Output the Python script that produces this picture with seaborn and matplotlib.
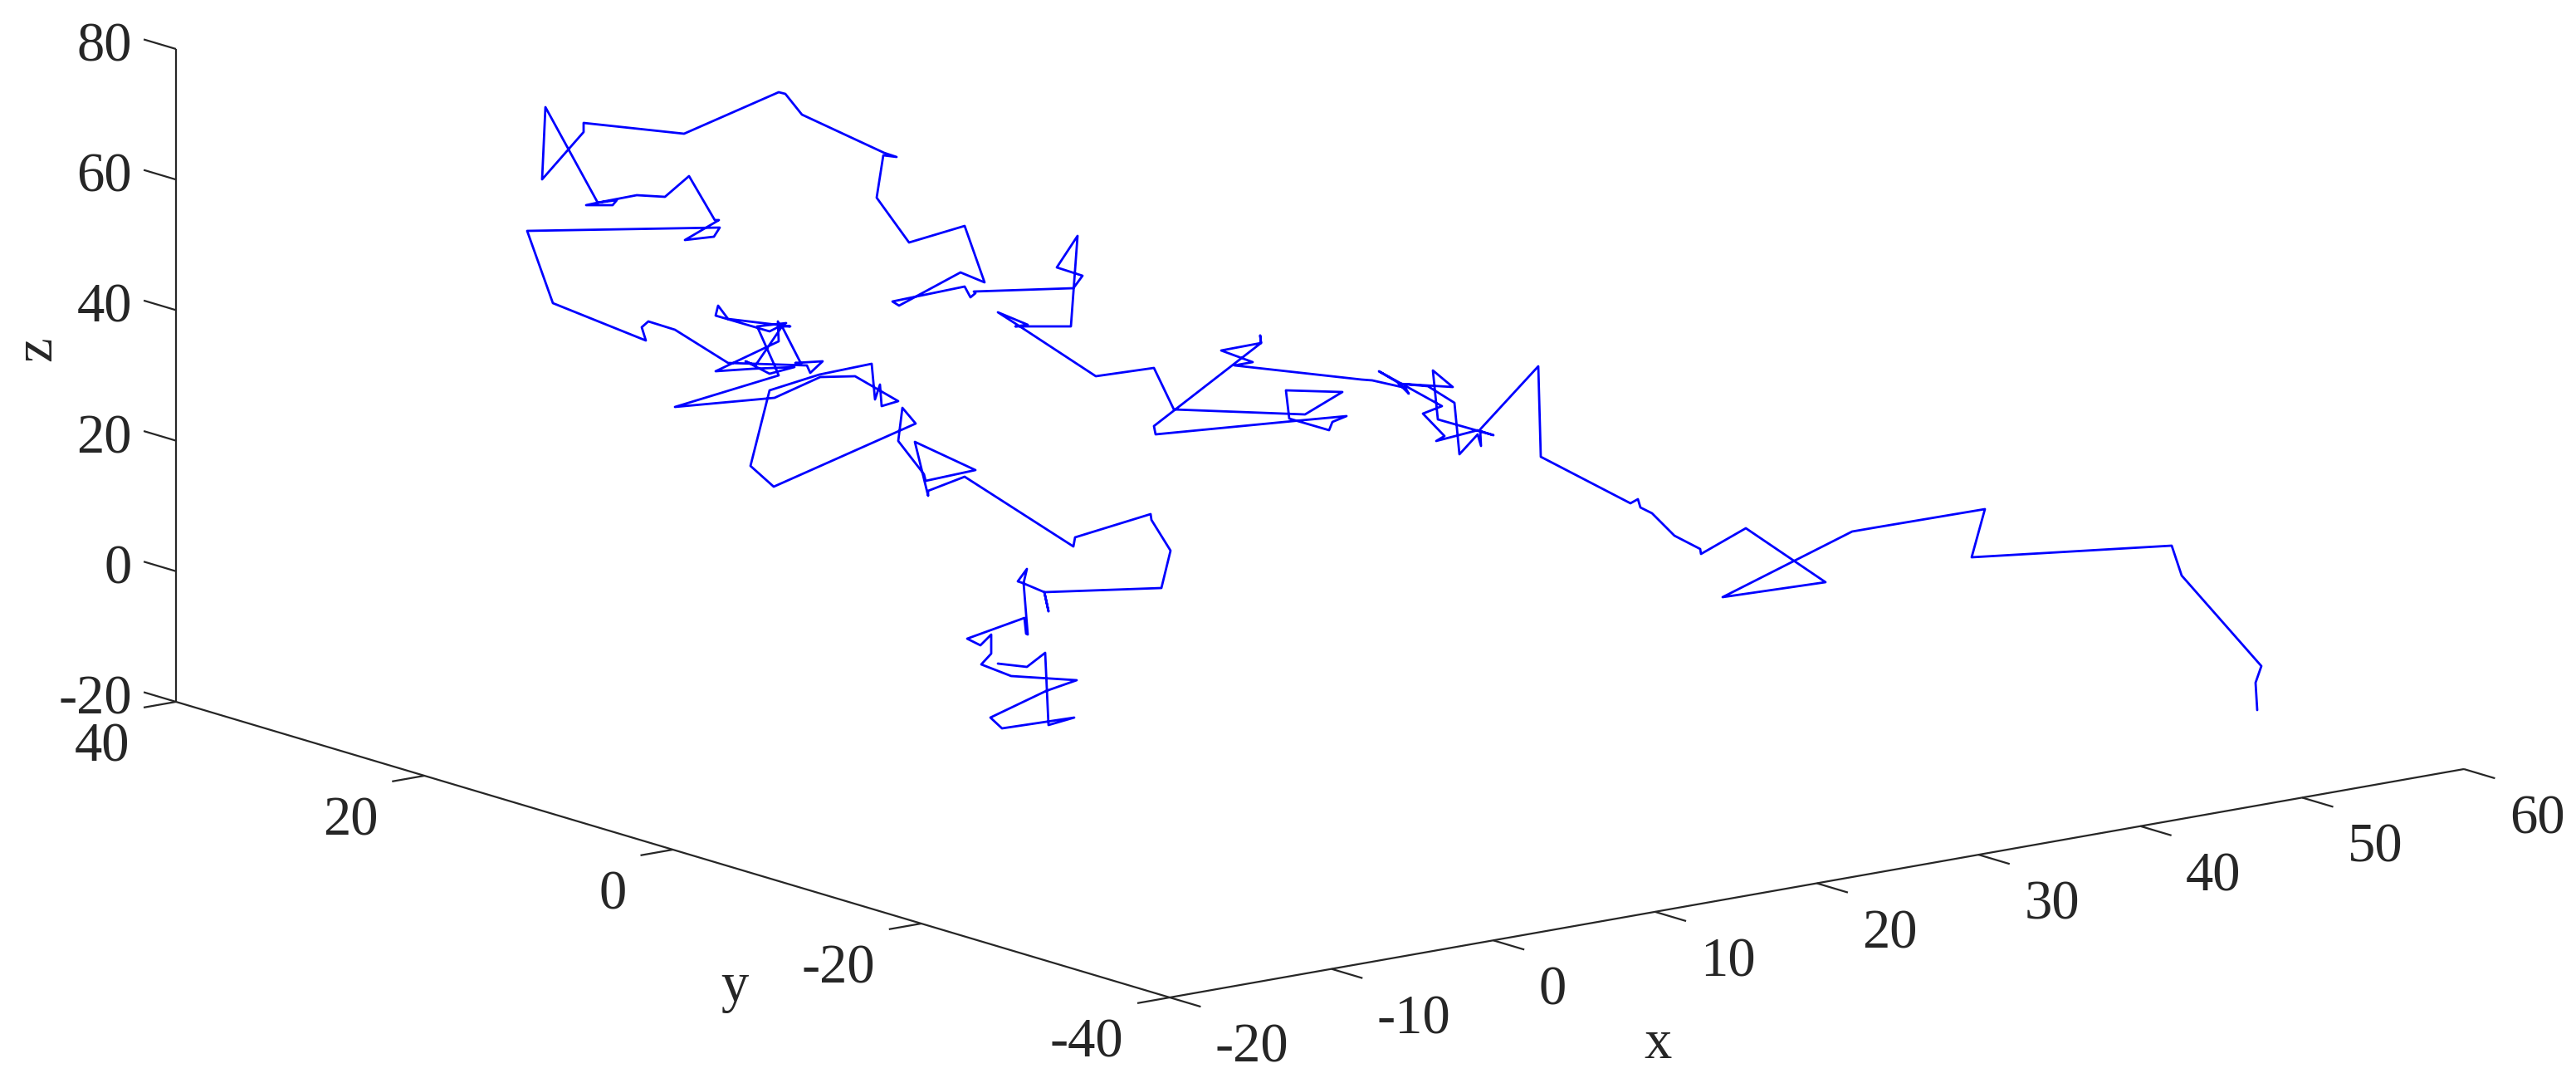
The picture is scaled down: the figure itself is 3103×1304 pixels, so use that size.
import matplotlib
matplotlib.use("Agg")
import matplotlib.pyplot as plt
import seaborn as sns
import pandas as pd

sns.set_theme(style="white")
plt.rcParams['font.family'] = ['Liberation Serif', 'DejaVu Serif']

# Trajectory, on the projected view plane
path_h = [2719,2717,2724,2628,2616,2375,2391,2260,2231,2075,2199,2103,2049,2048,2017,1990,1976,1973,1964,1856,
          1853,1783,1784,1780,1758,1752,1720,1685,1750,1726,1732,1799,1780,1730,1740,1714,1737,1661,1683,1697,
          1693,1653,1640,1487,1509,1471,1519,1518,1519,1390,1392,1558,1622,1605,1601,1553,1549,1617,1572,1414,
          1390,1320,1230,1202,1238,1223,1290,1298,1273,1304,1293,1173,1175,1169,1162,1075,1083,1157,1186,1162,
          1095,1056,1064,1080,1065,966,946,938,824,703,703,653,657,720,706,738,743,720,767,801,
          830,861,866,825,860,867,635,666,778,773,781,813,877,972,976,991,958,965,942,910,
          898,927,957,907,862,938,937,940,952,877,865,862,927,947,912,933,938,813,933,988,
          1030,1082,1062,1060,1054,1050,987,927,904,932,1103,1087,1082,1113,1115,1175,1102,1118,1118,1162,
          1293,1295,1386,1387,1410,1399,1258,1263,1258,1232,1226,1237,1233,1238,1236,1234,1165,1181,1194,1194,
          1182,1218,1297,1260,1193,1207,1294,1263,1259,1237,1202]
path_v = [855,822,802,693,657,671,613,635,640,719,701,636,667,661,645,618,611,601,606,550,
          441,517,537,523,547,485,465,462,466,446,505,524,518,531,525,498,489,447,460,474,
          467,458,457,440,436,422,413,404,413,513,523,507,501,508,518,504,470,472,499,493,
          443,453,394,376,391,393,393,284,322,332,347,351,353,358,345,363,368,328,340,272,
          292,238,187,189,184,138,113,111,161,148,159,216,129,244,247,247,241,244,235,237,
          212,265,265,289,285,274,278,365,410,394,387,397,437,440,449,435,437,438,393,440,
          435,450,442,444,447,411,387,393,393,384,368,380,399,389,393,440,452,490,479,454,
          453,483,489,463,481,438,451,470,561,586,510,491,531,571,579,566,532,597,591,574,
          658,647,619,626,663,708,713,736,713,702,700,685,702,764,763,744,769,777,764,787,
          800,814,819,832,864,877,864,873,786,803,799]

x_ticks = [-20, -10, 0, 10, 20, 30, 40, 50, 60]
y_ticks = [-40, -20, 0, 20, 40]
z_ticks = [-20, 0, 20, 40, 60, 80]


def project(x, y, z):
    """Orthographic view of the 3-D box on the picture plane."""
    h = 1409 + (x + 20) * (2968 - 1409) / 80 + (y + 40) * (212 - 1409) / 80
    v = 1201 + (x + 20) * (926 - 1201) / 80 + (y + 40) * (845 - 1201) / 80 + (z + 20) * (59 - 845) / 100
    return h, v


INK = "#262626"
FS = 48

fig = plt.figure(figsize=(31.03, 13.04), dpi=100, facecolor="white")
ax = fig.add_axes([0, 0, 1, 1])


def seg(p, q):
    ax.plot([p[0], q[0]], [p[1], q[1]], color=INK, lw=1.6, solid_capstyle="butt", zorder=1)


# box axes
seg(project(-20, -40, -20), project(60, -40, -20))
seg(project(-20, -40, -20), project(-20, 40, -20))
seg(project(-20, 40, -20), project(-20, 40, 80))

# ticks and labels
for t in x_ticks:
    p = project(t, -40, -20)
    seg(p, project(t, -42.5, -20))
    ax.text(p[0] + 55, p[1] + 61, str(t), fontsize=FS, color=INK, ha="left", va="center")
for t in y_ticks:
    p = project(-20, t, -20)
    seg(p, project(-22, t, -20))
    ax.text(p[0] - 56, p[1] + 55, str(t), fontsize=FS, color=INK, ha="right", va="center")
for t in z_ticks:
    p = project(-20, 40, t)
    seg(p, project(-20, 42.6, t))
    ax.text(159, p[1] - 2, str(t), fontsize=FS, color=INK, ha="right", va="center")

ax.text(1997, 1257, "x", fontsize=FS, color=INK, ha="center", va="center")
ax.text(885, 1189, "y", fontsize=FS, color=INK, ha="center", va="center")
ax.text(45, 420, "z", fontsize=FS, color=INK, ha="center", va="center", rotation=90)

# trajectory
df = pd.DataFrame({"h": path_h, "v": path_v})
sns.lineplot(data=df, x="h", y="v", sort=False, estimator=None, color="#0000ff", lw=2.0, ax=ax, zorder=2)

ax.set_xlim(0, 3103)
ax.set_ylim(1304, 0)
ax.axis("off")
fig.savefig("out.png", dpi=100, facecolor="white")
